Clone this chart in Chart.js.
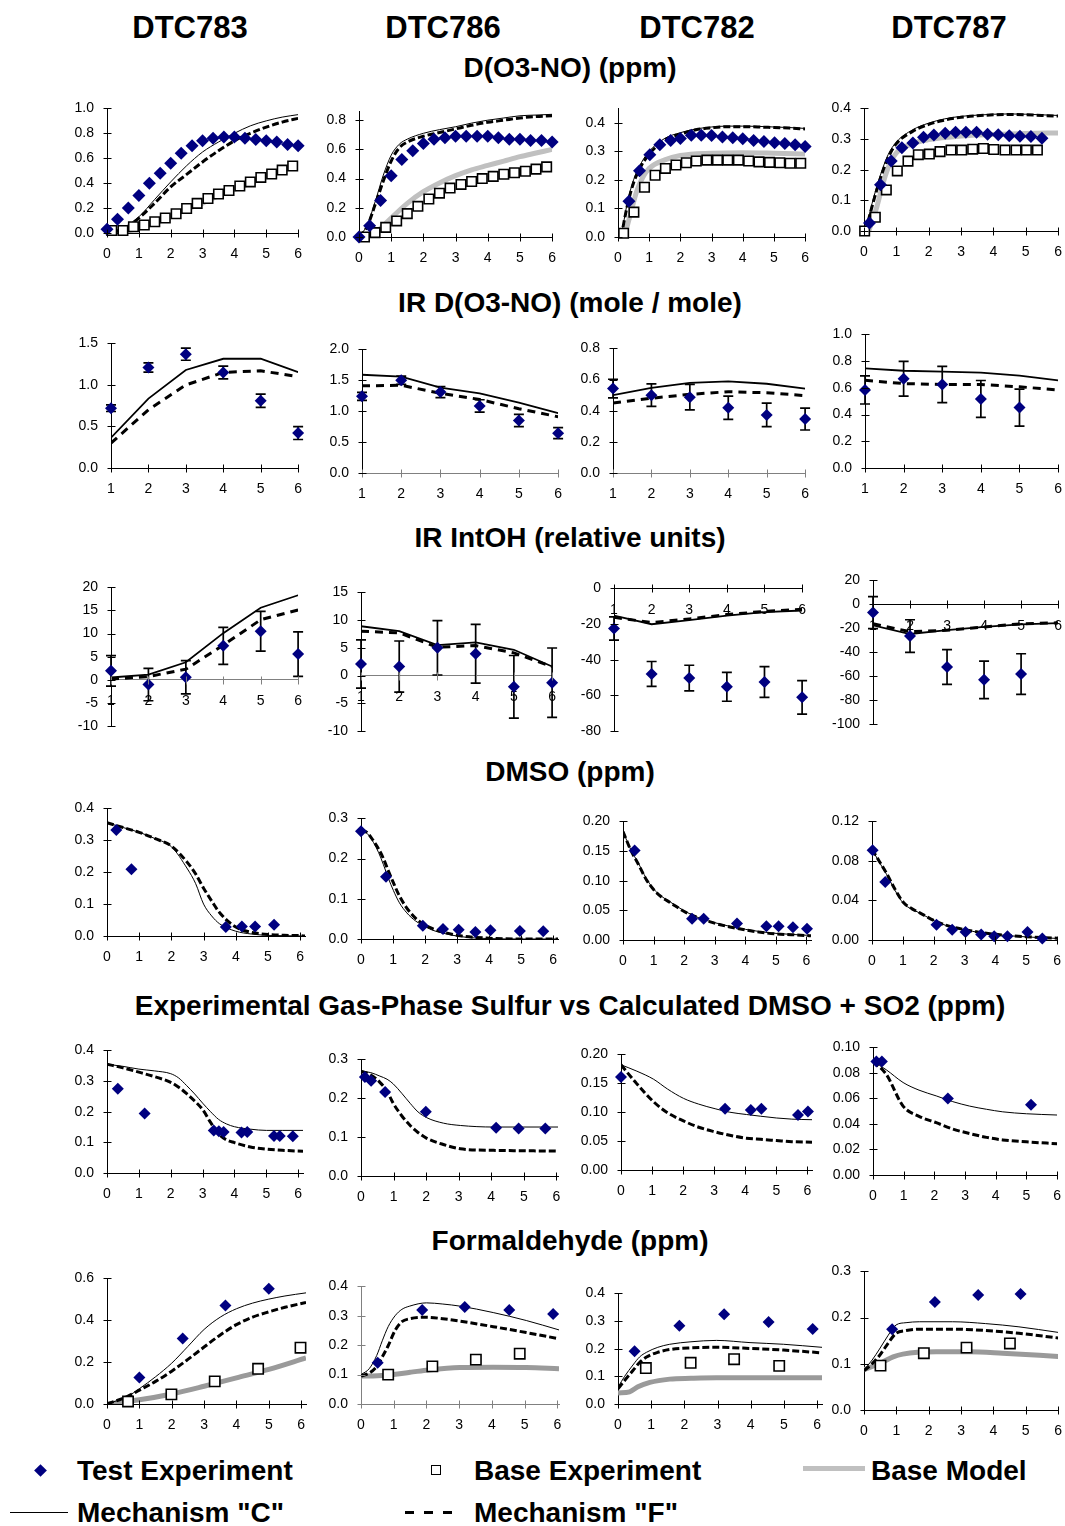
<!DOCTYPE html>
<html><head><meta charset="utf-8">
<script src="https://cdn.jsdelivr.net/npm/chart.js@4.4.1/dist/chart.umd.min.js"></script>
<style>
html,body{margin:0;padding:0;background:#fff;}
body{width:1065px;height:1526px;position:relative;overflow:hidden;font-family:"Liberation Sans",Arial,Helvetica,sans-serif;color:#000;}
.t{position:absolute;transform:translate(-50%,-50%);font-weight:bold;white-space:nowrap;line-height:1;}
.l{position:absolute;transform:translateY(-50%);font-weight:bold;white-space:nowrap;line-height:1;font-size:28px;}
canvas{position:absolute;}
</style></head>
<body>
<div class="t" style="left:190px;top:27px;font-size:31px">DTC783</div>
<div class="t" style="left:443px;top:27px;font-size:31px">DTC786</div>
<div class="t" style="left:697px;top:27px;font-size:31px">DTC782</div>
<div class="t" style="left:949px;top:27px;font-size:31px">DTC787</div>
<div class="t" style="left:570px;top:68px;font-size:28px">D(O3-NO) (ppm)</div>
<div class="t" style="left:570px;top:303px;font-size:28px">IR D(O3-NO) (mole / mole)</div>
<div class="t" style="left:570px;top:538px;font-size:28px">IR IntOH (relative units)</div>
<div class="t" style="left:570px;top:772px;font-size:28px">DMSO (ppm)</div>
<div class="t" style="left:570px;top:1006px;font-size:28px">Experimental Gas-Phase Sulfur vs Calculated DMSO + SO2 (ppm)</div>
<div class="t" style="left:570px;top:1241px;font-size:28px">Formaldehyde (ppm)</div>

<div style="position:absolute;left:35.5px;top:1465.5px;width:9px;height:9px;background:#000080;transform:rotate(45deg)"></div>
<div class="l" style="left:77px;top:1471px">Test Experiment</div>
<div style="position:absolute;left:431px;top:1465px;width:8px;height:8px;border:1.5px solid #000;background:#fff"></div>
<div class="l" style="left:474px;top:1471px">Base Experiment</div>
<div style="position:absolute;left:803px;top:1466px;width:62px;height:5px;background:#c0c0c0"></div>
<div class="l" style="left:871px;top:1471px">Base Model</div>
<div style="position:absolute;left:10px;top:1512px;width:58px;height:1px;background:#000"></div>
<div class="l" style="left:77px;top:1513px">Mechanism "C"</div>
<div style="position:absolute;left:405px;top:1511px;width:56px;height:3px;background:repeating-linear-gradient(to right,#000 0 9px,transparent 9px 19px)"></div>
<div class="l" style="left:474px;top:1513px">Mechanism "F"</div>

<script>
// ---------- tick values ----------
const X06 = [0,1,2,3,4,5,6];
const X16 = [1,2,3,4,5,6];
const irX = [1,2,3,4,5,6];

const yt_o3_783 = [0,0.2,0.4,0.6,0.8,1.0];
const yt_o3_786 = [0,0.2,0.4,0.6,0.8];
const yt_o3_782 = [0,0.1,0.2,0.3,0.4];
const yt_o3_787 = [0,0.1,0.2,0.3,0.4];
const yt_ir_783 = [0,0.5,1.0,1.5];
const yt_ir_786 = [0,0.5,1.0,1.5,2.0];
const yt_ir_782 = [0,0.2,0.4,0.6,0.8];
const yt_ir_787 = [0,0.2,0.4,0.6,0.8,1.0];
const yt_oh_783 = [-10,-5,0,5,10,15,20];
const yt_oh_786 = [-10,-5,0,5,10,15];
const yt_oh_782 = [-80,-60,-40,-20,0];
const yt_oh_787 = [-100,-80,-60,-40,-20,0,20];
const yt_dmso_783 = [0,0.1,0.2,0.3,0.4];
const yt_dmso_786 = [0,0.1,0.2,0.3];
const yt_dmso_782 = [0,0.05,0.10,0.15,0.20];
const yt_dmso_787 = [0,0.04,0.08,0.12];
const yt_sul_783 = [0,0.1,0.2,0.3,0.4];
const yt_sul_786 = [0,0.1,0.2,0.3];
const yt_sul_782 = [0,0.05,0.10,0.15,0.20];
const yt_sul_787 = [0,0.02,0.04,0.06,0.08,0.10];
const yt_hcho_783 = [0,0.2,0.4,0.6];
const yt_hcho_786 = [0,0.1,0.2,0.3,0.4];
const yt_hcho_782 = [0,0.1,0.2,0.3,0.4];
const yt_hcho_787 = [0,0.1,0.2,0.3];

// ---------- D(O3-NO) ----------
const o3_783_test = [[0,0.03],[0.33,0.11],[0.67,0.20],[1.0,0.30],[1.33,0.40],[1.67,0.48],[2.0,0.56],[2.33,0.64],[2.67,0.70],[3.0,0.74],[3.33,0.76],[3.67,0.77],[4.0,0.77],[4.33,0.76],[4.67,0.75],[5.0,0.74],[5.33,0.73],[5.67,0.71],[6.0,0.70]];
const o3_783_base = [[0.15,0.02],[0.5,0.02],[0.83,0.05],[1.17,0.064],[1.5,0.09],[1.83,0.12],[2.17,0.154],[2.5,0.197],[2.83,0.238],[3.17,0.277],[3.5,0.313],[3.83,0.341],[4.17,0.377],[4.5,0.41],[4.83,0.446],[5.17,0.474],[5.5,0.505],[5.83,0.538]];
const o3_783_t = [0,0.5,1,1.5,2,2.5,3,3.5,4,4.5,5,5.5,6];
const o3_783_C = [0,0.04,0.13,0.27,0.41,0.54,0.65,0.73,0.80,0.86,0.90,0.93,0.95];
const o3_783_F = [0,0.03,0.12,0.24,0.37,0.47,0.57,0.66,0.74,0.80,0.85,0.89,0.92];
const o3_783_model = [0,0.01,0.04,0.08,0.13,0.19,0.24,0.30,0.35,0.40,0.46,0.51,0.56];

const o3_786_test = [[0,0],[0.33,0.077],[0.67,0.25],[1,0.42],[1.33,0.53],[1.67,0.59],[2,0.64],[2.33,0.67],[2.67,0.68],[3,0.69],[3.33,0.69],[3.67,0.69],[4,0.69],[4.33,0.68],[4.67,0.67],[5,0.67],[5.33,0.66],[5.67,0.66],[6,0.65]];
const o3_786_base = [[0.17,0],[0.5,0.03],[0.83,0.066],[1.17,0.11],[1.5,0.16],[1.83,0.21],[2.17,0.26],[2.5,0.30],[2.83,0.335],[3.17,0.36],[3.5,0.38],[3.83,0.40],[4.17,0.415],[4.5,0.43],[4.83,0.44],[5.17,0.45],[5.5,0.465],[5.83,0.48]];
const o3_786_t = [0,0.25,0.5,0.75,1,1.25,1.5,2,2.5,3,3.5,4,4.5,5,5.5,6];
const o3_786_C = [0,0.08,0.24,0.42,0.56,0.635,0.67,0.71,0.735,0.755,0.78,0.80,0.815,0.83,0.835,0.84];
const o3_786_F = [0,0.07,0.22,0.38,0.52,0.61,0.65,0.69,0.715,0.74,0.765,0.785,0.80,0.815,0.825,0.83];
const o3_786_mt = [0,0.5,1,1.5,2,2.5,3,3.5,4,4.5,5,5.5,6];
const o3_786_model = [0,0.03,0.13,0.23,0.31,0.37,0.42,0.46,0.49,0.52,0.55,0.575,0.60];

const o3_782_test = [[0.35,0.125],[0.69,0.232],[1.02,0.288],[1.34,0.323],[1.69,0.338],[2.0,0.345],[2.35,0.356],[2.67,0.356],[3.0,0.355],[3.35,0.35],[3.68,0.347],[4.0,0.344],[4.35,0.338],[4.68,0.334],[5.02,0.33],[5.35,0.327],[5.68,0.323],[6.0,0.317]];
const o3_782_base = [[0.18,0.013],[0.51,0.087],[0.85,0.174],[1.19,0.216],[1.52,0.24],[1.86,0.252],[2.19,0.26],[2.51,0.266],[2.85,0.269],[3.19,0.269],[3.52,0.269],[3.86,0.269],[4.19,0.266],[4.52,0.263],[4.86,0.261],[5.19,0.26],[5.52,0.258],[5.86,0.258]];
const o3_782_t = [0.1,0.3,0.5,0.75,1,1.5,2,2.5,3,3.5,4,4.5,5,5.5,6];
const o3_782_C = [0,0.12,0.2,0.26,0.3,0.345,0.365,0.378,0.385,0.388,0.388,0.387,0.385,0.383,0.38];
const o3_782_F = [0,0.11,0.19,0.25,0.29,0.34,0.36,0.375,0.382,0.386,0.386,0.385,0.383,0.381,0.378];
const o3_782_mt = [0.2,0.4,0.6,0.8,1,1.5,2,3,4,5,6];
const o3_782_model = [0,0.08,0.16,0.21,0.24,0.27,0.285,0.293,0.295,0.293,0.29];

const o3_787_test = [[0.17,0.026],[0.51,0.151],[0.84,0.228],[1.17,0.272],[1.51,0.287],[1.84,0.306],[2.16,0.313],[2.51,0.319],[2.83,0.322],[3.15,0.322],[3.48,0.322],[3.82,0.316],[4.15,0.314],[4.49,0.311],[4.82,0.309],[5.16,0.308],[5.5,0.303]];
const o3_787_base = [[0.02,0],[0.35,0.045],[0.69,0.134],[1.03,0.196],[1.36,0.228],[1.68,0.249],[2.02,0.251],[2.35,0.259],[2.69,0.264],[3.02,0.264],[3.36,0.267],[3.69,0.269],[4.01,0.266],[4.36,0.264],[4.7,0.264],[5.02,0.264],[5.36,0.264]];
const o3_787_t = [0.05,0.25,0.5,0.75,1,1.5,2,2.5,3,3.5,4,4.5,5,5.5,6];
const o3_787_C = [0,0.09,0.18,0.25,0.29,0.33,0.352,0.366,0.374,0.378,0.381,0.382,0.381,0.379,0.377];
const o3_787_F = [0,0.08,0.17,0.24,0.285,0.325,0.348,0.362,0.371,0.376,0.379,0.38,0.379,0.377,0.375];
const o3_787_mt = [0.15,0.4,0.6,0.8,1,1.5,2,3,4,5,6];
const o3_787_model = [0,0.08,0.16,0.22,0.255,0.285,0.298,0.31,0.315,0.318,0.32];

// ---------- IR D(O3-NO) ----------
const ir_783_test = [0.72,1.21,1.37,1.15,0.81,0.42];
const ir_783_err  = [0.04,0.055,0.073,0.077,0.08,0.077];
const ir_783_C = [0.365,0.835,1.18,1.315,1.315,1.154];
const ir_783_F = [0.30,0.70,1.0,1.15,1.17,1.10];
const ir_786_test = [1.24,1.50,1.31,1.085,0.85,0.645];
const ir_786_err  = [0.065,0.067,0.09,0.1,0.1,0.09];
const ir_786_C = [1.59,1.56,1.38,1.29,1.14,0.97];
const ir_786_F = [1.41,1.42,1.29,1.19,1.04,0.91];
const ir_782_test = [0.542,0.50,0.487,0.419,0.373,0.346];
const ir_782_err  = [0.06,0.072,0.082,0.075,0.075,0.07];
const ir_782_C = [0.50,0.546,0.579,0.588,0.573,0.542];
const ir_782_F = [0.45,0.48,0.505,0.522,0.515,0.497];
const ir_787_test = [0.584,0.668,0.625,0.517,0.452];
const ir_787_err  = [0.105,0.13,0.135,0.138,0.138];
const ir_787_C = [0.745,0.728,0.721,0.714,0.692,0.656];
const ir_787_F = [0.656,0.632,0.625,0.625,0.608,0.584];

// ---------- IR IntOH ----------
const oh_783_test = [1.94,-1.04,0.56,7.36,10.49,5.56];
const oh_783_err  = [3.3,3.5,3.6,4.0,4.3,4.8];
const oh_783_C = [0.5,1.1,3.8,10.1,15.6,18.3];
const oh_783_F = [0.15,0.7,2.3,7.5,13.0,15.1];
const oh_786_test = [2.1,1.63,5.0,3.95,-2.03,-1.28];
const oh_786_err  = [4.35,4.6,4.9,5.3,5.65,6.25];
const oh_786_C = [8.9,8.0,5.5,6.0,4.65,1.63];
const oh_786_F = [8.0,7.7,5.1,5.4,4.1,1.6];
const oh_782_test = [-22.5,-48,-50.3,-55.2,-52.5,-61.1];
const oh_782_err  = [6.5,7,7.2,8.1,8.6,9.4];
const oh_782_C = [-15.3,-20.1,-17.8,-15.3,-13.3,-12.4];
const oh_782_F = [-16.2,-19.2,-17.1,-14.7,-12.9,-11.7];
const oh_787_test = [-6.9,-26.5,-52.4,-63.1,-58.3];
const oh_787_err  = [13.4,13.6,14.5,15.7,17];
const oh_787_C = [-17.6,-24.8,-21.6,-18.9,-16.8,-15.7];
const oh_787_F = [-16.2,-22.9,-21.6,-18.9,-16.3,-15.4];

// ---------- DMSO ----------
const dmso_783_test = [[0.29,0.332],[0.76,0.209],[3.69,0.028],[4.19,0.03],[4.6,0.03],[5.19,0.035]];
const dmso_783_t = [0,0.5,1,1.5,2,2.5,2.75,3,3.25,3.5,4,4.5,5,5.5,6,6.15];
const dmso_783_C = [0.355,0.34,0.325,0.305,0.28,0.21,0.165,0.10,0.063,0.038,0.015,0.006,0.002,0.001,0,0];
const dmso_783_F = [0.355,0.34,0.325,0.305,0.282,0.23,0.195,0.15,0.11,0.073,0.028,0.011,0.005,0.002,0.001,0];
const dmso_786_test = [[0,0.268],[0.78,0.155],[1.93,0.033],[2.56,0.025],[3.05,0.023],[3.57,0.0175],[4.04,0.0215],[4.96,0.02],[5.69,0.019]];
const dmso_786_t = [0,0.2,0.39,0.55,0.7,0.85,1.01,1.2,1.43,1.7,1.95,2.2,2.48,3.1,4,5,6.15];
const dmso_786_C = [0.272,0.262,0.24,0.215,0.185,0.152,0.121,0.09,0.065,0.045,0.033,0.023,0.016,0.006,0.001,0,0];
const dmso_786_F = [0.272,0.264,0.244,0.224,0.2,0.17,0.14,0.107,0.077,0.052,0.037,0.027,0.019,0.008,0.002,0,0];
const dmso_782_test = [[0.38,0.151],[2.26,0.036],[2.64,0.036],[3.73,0.028],[4.69,0.023],[5.09,0.023],[5.56,0.0215],[6.02,0.019]];
const dmso_782_t = [0,0.25,0.51,0.75,1,1.25,1.55,2.04,2.5,3.02,3.5,4,4.5,5.04,5.5,6,6.15];
const dmso_782_C = [0.183,0.153,0.129,0.105,0.086,0.074,0.064,0.048,0.037,0.029,0.023,0.018,0.014,0.011,0.0095,0.008,0.0075];
const dmso_782_F = [0.183,0.152,0.127,0.103,0.085,0.073,0.063,0.047,0.037,0.028,0.022,0.017,0.013,0.010,0.009,0.0075,0.007];
const dmso_787_test = [[0.02,0.0907],[0.43,0.0586],[2.09,0.0154],[2.6,0.0103],[3.03,0.008],[3.54,0.0055],[3.96,0.0039],[4.39,0.0039],[5.04,0.008],[5.52,0.0016]];
const dmso_787_t = [0,0.25,0.48,0.75,1.02,1.3,1.55,2.09,2.5,3,3.5,4.02,4.5,4.98,5.5,6];
const dmso_787_C = [0.0917,0.078,0.066,0.05,0.037,0.031,0.0273,0.0183,0.0138,0.0103,0.0075,0.0055,0.0042,0.0032,0.0023,0.0016];
const dmso_787_F = [0.0917,0.079,0.067,0.051,0.038,0.0315,0.0275,0.0185,0.014,0.0105,0.0077,0.0057,0.0044,0.0034,0.0025,0.0018];

// ---------- Sulfur ----------
const sul_783_test = [[0.34,0.275],[1.18,0.194],[3.35,0.139],[3.51,0.136],[3.66,0.134],[4.22,0.132],[4.4,0.134],[5.24,0.121],[5.42,0.121],[5.83,0.12]];
const sul_783_t = [0,0.5,1,1.5,2,2.25,2.5,2.75,3,3.25,3.5,3.75,4,4.5,5,5.5,6.15];
const sul_783_C = [0.355,0.348,0.339,0.333,0.324,0.31,0.285,0.258,0.228,0.2,0.175,0.16,0.151,0.143,0.139,0.139,0.139];
const sul_783_F = [0.355,0.343,0.329,0.314,0.296,0.28,0.259,0.235,0.207,0.165,0.128,0.108,0.099,0.085,0.078,0.074,0.071];
const sul_786_test = [[0.12,0.255],[0.31,0.245],[0.74,0.216],[1.99,0.165],[4.15,0.124],[4.84,0.122],[5.66,0.122]];
const sul_786_t = [0,0.3,0.58,0.8,0.99,1.25,1.51,1.75,2.02,2.53,3.05,4.07,5,6.05];
const sul_786_C = [0.27,0.266,0.257,0.249,0.237,0.213,0.187,0.165,0.15,0.136,0.13,0.126,0.126,0.126];
const sul_786_F = [0.27,0.26,0.241,0.218,0.187,0.155,0.13,0.112,0.097,0.081,0.07,0.066,0.065,0.064];
const sul_782_test = [[0,0.161],[3.35,0.106],[4.18,0.1036],[4.52,0.106],[5.7,0.095],[6.02,0.101]];
const sul_782_t = [0,0.51,1.05,1.5,2.01,2.5,3.03,3.5,4.04,4.5,5,5.5,6.15];
const sul_782_C = [0.182,0.171,0.157,0.14,0.124,0.114,0.106,0.1,0.096,0.093,0.09,0.088,0.087];
const sul_782_F = [0.182,0.149,0.118,0.099,0.085,0.074,0.066,0.06,0.055,0.053,0.051,0.049,0.048];
const sul_787_test = [[0.11,0.089],[0.29,0.089],[2.44,0.06],[5.15,0.055]];
const sul_787_t = [0,0.43,0.98,1.5,2.06,2.6,3.15,3.7,4.23,5,6];
const sul_787_C = [0.089,0.0825,0.0725,0.0665,0.062,0.0575,0.054,0.0515,0.0495,0.048,0.047];
const sul_787_F = [0.089,0.079,0.054,0.046,0.041,0.036,0.0325,0.0295,0.0275,0.026,0.0245];

// ---------- Formaldehyde ----------
const hcho_783_test = [[1,0.127],[2.34,0.313],[3.66,0.47],[5.0,0.55]];
const hcho_783_base = [[0.65,0.012],[1.99,0.046],[3.33,0.108],[4.67,0.168],[5.98,0.269]];
const hcho_783_t = [0,0.62,1,1.5,2,2.5,3,3.5,4,4.5,5,5.5,6.15];
const hcho_783_C = [0,0.035,0.073,0.13,0.195,0.275,0.356,0.415,0.455,0.482,0.501,0.516,0.531];
const hcho_783_F = [0,0.035,0.066,0.108,0.157,0.213,0.272,0.33,0.379,0.415,0.44,0.462,0.485];
const hcho_783_mt = [0,1,2,3,4,5,6.15];
const hcho_783_model = [0,0.02,0.048,0.085,0.125,0.165,0.22];
const hcho_786_test = [[0.51,0.14],[1.87,0.32],[3.17,0.33],[4.53,0.32],[5.87,0.306]];
const hcho_786_base = [[0.83,0.1],[2.18,0.128],[3.51,0.151],[4.85,0.171]];
const hcho_786_t = [0,0.25,0.48,0.65,0.83,1.04,1.25,1.49,2,2.5,3.02,4.04,5.05,6.05];
const hcho_786_C = [0.1,0.12,0.165,0.215,0.263,0.30,0.322,0.333,0.344,0.34,0.333,0.311,0.284,0.252];
const hcho_786_F = [0.095,0.105,0.128,0.16,0.198,0.25,0.28,0.29,0.295,0.29,0.282,0.263,0.243,0.222];
const hcho_786_mt = [0,0.5,0.99,1.5,2,3.02,4.04,5.05,6.05];
const hcho_786_model = [0.095,0.096,0.1,0.108,0.115,0.124,0.125,0.124,0.12];
const hcho_782_test = [[0.5,0.191],[1.85,0.283],[3.2,0.325],[4.54,0.297],[5.87,0.271]];
const hcho_782_base = [[0.84,0.13],[2.19,0.149],[3.5,0.162],[4.86,0.138]];
const hcho_782_t = [0,0.2,0.45,0.65,0.86,1.2,1.56,2.2,2.97,3.98,4.99,6.15];
const hcho_782_C = [0.061,0.1,0.141,0.17,0.187,0.205,0.216,0.225,0.23,0.222,0.216,0.205];
const hcho_782_F = [0.055,0.085,0.121,0.15,0.17,0.187,0.197,0.203,0.205,0.201,0.195,0.185];
const hcho_782_mt = [0,0.35,0.6,0.96,1.56,2.2,2.97,3.98,6.15];
const hcho_782_model = [0.04,0.044,0.062,0.078,0.09,0.093,0.095,0.095,0.095];
const hcho_787_test = [[0.87,0.175],[2.19,0.234],[3.53,0.249],[4.84,0.251]];
const hcho_787_base = [[0.51,0.096],[1.85,0.123],[3.17,0.135],[4.51,0.144]];
const hcho_787_t = [0,0.25,0.48,0.75,0.99,1.3,1.71,2.74,3.76,4.79,6];
const hcho_787_C = [0.087,0.108,0.132,0.162,0.184,0.189,0.191,0.191,0.187,0.18,0.168];
const hcho_787_F = [0.085,0.1,0.118,0.145,0.166,0.172,0.175,0.175,0.172,0.166,0.156];
const hcho_787_mt = [0,0.58,0.9,1.2,2.23,3.25,4.28,6];
const hcho_787_model = [0.087,0.104,0.115,0.121,0.126,0.126,0.123,0.116];

// ---------- helpers ----------
const pts = a => a.map(p => ({x:p[0], y:p[1]}));
const zip = (xs, ys) => ys.map((v,i) => ({x:xs[i], y:v}));
const FONT = '"Liberation Sans", Arial, Helvetica, sans-serif';

const errPlugin = {
  id:'errbars',
  beforeDatasetsDraw(chart){
    const ctx = chart.ctx, xs = chart.scales.x, ys = chart.scales.y;
    chart.data.datasets.forEach(ds => {
      if (!ds.errors) return;
      ctx.save(); ctx.strokeStyle = '#000'; ctx.lineWidth = 1.7;
      ds.data.forEach((p,j) => {
        const e = ds.errors[j];
        const px = xs.getPixelForValue(p.x);
        const y1 = ys.getPixelForValue(p.y + e), y2 = ys.getPixelForValue(p.y - e);
        ctx.beginPath();
        ctx.moveTo(px, y1); ctx.lineTo(px, y2);
        ctx.moveTo(px-5, y1); ctx.lineTo(px+5, y1);
        ctx.moveTo(px-5, y2); ctx.lineTo(px+5, y2);
        ctx.stroke();
      });
      ctx.restore();
    });
  }
};
const tickPlugin = {
  id:'xlTicks',
  afterDraw(chart, args, opts){
    const ctx = chart.ctx, xs = chart.scales.x, ys = chart.scales.y;
    const ay = Math.round(ys.getPixelForValue(0)) + 0.5;
    const ax = Math.round(chart.chartArea.left) + 0.5;
    ctx.save(); ctx.lineWidth = 1;
    ctx.strokeStyle = opts.xc || '#000';
    ctx.beginPath();
    xs.ticks.forEach(t => { const px = Math.round(xs.getPixelForValue(t.value)) + 0.5; ctx.moveTo(px, ay-4); ctx.lineTo(px, ay+4); });
    ctx.stroke();
    ctx.strokeStyle = opts.yc || '#000';
    ctx.beginPath();
    ys.ticks.forEach(t => { const py = Math.round(ys.getPixelForValue(t.value)) + 0.5; ctx.moveTo(ax-4, py); ctx.lineTo(ax+4, py); });
    ctx.stroke();
    ctx.restore();
  }
};

// ---------- panel configuration (built from the arrays above) ----------
const G1 = '#c0c0c0', G6 = '#9a9a9a', GA = '#808080';
const panels = [
  {box:[106.7,299.3,103.3,233.3], xr:[0,6], yr:[0,1.0], xt:X06, yt:yt_o3_783, dec:1, smooth:true, mr:6.5, br:6.7, mc:G1,
   test:pts(o3_783_test), base:pts(o3_783_base), model:zip(o3_783_t,o3_783_model), C:zip(o3_783_t,o3_783_C), F:zip(o3_783_t,o3_783_F)},
  {box:[359.3,552.7,105.9,236.7], xr:[0,6], yr:[0,0.86], xt:X06, yt:yt_o3_786, dec:1, smooth:true, mr:6.5, br:6.7, mc:G1,
   test:pts(o3_786_test), base:pts(o3_786_base), model:zip(o3_786_mt,o3_786_model), C:zip(o3_786_t,o3_786_C), F:zip(o3_786_t,o3_786_F)},
  {box:[618,806,102.8,236.7], xr:[0,6], yr:[0,0.45], xt:X06, yt:yt_o3_782, dec:1, smooth:true, mr:6.5, br:6.7, mc:G1,
   test:pts(o3_782_test), base:pts(o3_782_base), model:zip(o3_782_mt,o3_782_model), C:zip(o3_782_t,o3_782_C), F:zip(o3_782_t,o3_782_F)},
  {box:[864.3,1059,103.3,231], xr:[0,6], yr:[0,0.4], xt:X06, yt:yt_o3_787, dec:1, smooth:true, mr:6.5, br:6.7, mc:G1,
   test:pts(o3_787_test), base:pts(o3_787_base), model:zip(o3_787_mt,o3_787_model), C:zip(o3_787_t,o3_787_C), F:zip(o3_787_t,o3_787_F)},

  {box:[111,299.3,338.3,468.3], xr:[1,6], yr:[0,1.5], xt:X16, yt:yt_ir_783, dec:1, smooth:false, mr:6,
   test:zip(irX,ir_783_test), err:ir_783_err, C:zip(irX,ir_783_C), F:zip(irX,ir_783_F)},
  {box:[362.3,559.3,344.3,473.3], xr:[1,6], yr:[0,2.0], xt:X16, yt:yt_ir_786, dec:1, smooth:false, mr:6, xc:GA,
   test:zip(irX,ir_786_test), err:ir_786_err, C:zip(irX,ir_786_C), F:zip(irX,ir_786_F)},
  {box:[612.7,806,343.3,472.7], xr:[1,6], yr:[0,0.8], xt:X16, yt:yt_ir_782, dec:1, smooth:false, mr:6, xc:GA,
   test:zip(irX,ir_782_test), err:ir_782_err, C:zip(irX,ir_782_C), F:zip(irX,ir_782_F)},
  {box:[865,1059.3,329,467.7], xr:[1,6], yr:[0,1.0], xt:X16, yt:yt_ir_787, dec:1, smooth:false, mr:6,
   test:zip(irX,ir_787_test), err:ir_787_err, C:zip(irX,ir_787_C), F:zip(irX,ir_787_F)},

  {box:[111,299.3,581.7,725.7], xr:[1,6], yr:[-10,20], xt:X16, yt:yt_oh_783, dec:0, smooth:false, mr:6, xc:GA,
   test:zip(irX,oh_783_test), err:oh_783_err, C:zip(irX,oh_783_C), F:zip(irX,oh_783_F)},
  {box:[361,553.3,586.7,730.7], xr:[1,6], yr:[-10,15], xt:X16, yt:yt_oh_786, dec:0, smooth:false, mr:6, xc:GA,
   test:zip(irX,oh_786_test), err:oh_786_err, C:zip(irX,oh_786_C), F:zip(irX,oh_786_F)},
  {box:[614.3,803.3,582.7,731], xr:[1,6], yr:[-80,0], xt:X16, yt:yt_oh_782, dec:0, smooth:false, mr:6,
   test:zip(irX,oh_782_test), err:oh_782_err, C:zip(irX,oh_782_C), F:zip(irX,oh_782_F)},
  {box:[873.3,1059.3,575,724.3], xr:[1,6], yr:[-100,20], xt:X16, yt:yt_oh_787, dec:0, smooth:false, mr:6,
   test:zip(irX,oh_787_test), err:oh_787_err, C:zip(irX,oh_787_C), F:zip(irX,oh_787_F)},

  {box:[106.7,304.8,803.3,936], xr:[0,6.15], yr:[0,0.4], xt:X06, yt:yt_dmso_783, dec:1, smooth:true, mr:6,
   test:pts(dmso_783_test), C:zip(dmso_783_t,dmso_783_C), F:zip(dmso_783_t,dmso_783_F)},
  {box:[361,557.5,813.3,939], xr:[0,6.15], yr:[0,0.3], xt:X06, yt:yt_dmso_786, dec:1, smooth:true, mr:6,
   test:pts(dmso_786_test), C:zip(dmso_786_t,dmso_786_C), F:zip(dmso_786_t,dmso_786_F)},
  {box:[622.7,810.6,815.7,940], xr:[0,6.15], yr:[0,0.2], xt:X06, yt:yt_dmso_782, dec:2, smooth:true, mr:6,
   test:pts(dmso_782_test), C:zip(dmso_782_t,dmso_782_C), F:zip(dmso_782_t,dmso_782_F)},
  {box:[871.7,1058.3,815.7,940], xr:[0,6], yr:[0,0.12], xt:X06, yt:yt_dmso_787, dec:2, smooth:true, mr:6,
   test:pts(dmso_787_test), C:zip(dmso_787_t,dmso_787_C), F:zip(dmso_787_t,dmso_787_F)},

  {box:[106.7,302.5,1045,1172.7], xr:[0,6.15], yr:[0,0.4], xt:X06, yt:yt_sul_783, dec:1, smooth:true, mr:6,
   test:pts(sul_783_test), C:zip(sul_783_t,sul_783_C), F:zip(sul_783_t,sul_783_F)},
  {box:[361,557.6,1054.3,1176], xr:[0,6.05], yr:[0,0.3], xt:X06, yt:yt_sul_786, dec:1, smooth:true, mr:6,
   test:pts(sul_786_test), C:zip(sul_786_t,sul_786_C), F:zip(sul_786_t,sul_786_F)},
  {box:[620.7,812.4,1049,1170], xr:[0,6.15], yr:[0,0.2], xt:X06, yt:yt_sul_782, dec:2, smooth:true, mr:6,
   test:pts(sul_782_test), C:zip(sul_782_t,sul_782_C), F:zip(sul_782_t,sul_782_F)},
  {box:[873.3,1057.7,1041.7,1175], xr:[0,6], yr:[0,0.1], xt:X06, yt:yt_sul_787, dec:2, smooth:true, mr:6,
   test:pts(sul_787_test), C:zip(sul_787_t,sul_787_C), F:zip(sul_787_t,sul_787_F)},

  {box:[106.7,305.5,1273.3,1404.3], xr:[0,6.15], yr:[0,0.6], xt:X06, yt:yt_hcho_783, dec:1, smooth:true, mr:6, br:7.3, mc:G6,
   test:pts(hcho_783_test), base:pts(hcho_783_base), model:zip(hcho_783_mt,hcho_783_model), C:zip(hcho_783_t,hcho_783_C), F:zip(hcho_783_t,hcho_783_F)},
  {box:[361,559.3,1281,1404.3], xr:[0,6.05], yr:[0,0.4], xt:X06, yt:yt_hcho_786, dec:1, smooth:true, mr:6, br:7.3, mc:G6, xc:GA, yc:GA,
   test:pts(hcho_786_test), base:pts(hcho_786_base), model:zip(hcho_786_mt,hcho_786_model), C:zip(hcho_786_t,hcho_786_C), F:zip(hcho_786_t,hcho_786_F)},
  {box:[618.3,821.7,1288.3,1404.3], xr:[0,6.15], yr:[0,0.4], xt:X06, yt:yt_hcho_782, dec:1, smooth:true, mr:6, br:7.3, mc:G6,
   test:pts(hcho_782_test), base:pts(hcho_782_base), model:zip(hcho_782_mt,hcho_782_model), C:zip(hcho_782_t,hcho_782_C), F:zip(hcho_782_t,hcho_782_F)},
  {box:[864.3,1059.3,1265.7,1410], xr:[0,6], yr:[0,0.3], xt:X06, yt:yt_hcho_787, dec:1, smooth:true, mr:6, br:7.3, mc:G6,
   test:pts(hcho_787_test), base:pts(hcho_787_base), model:zip(hcho_787_mt,hcho_787_model), C:zip(hcho_787_t,hcho_787_C), F:zip(hcho_787_t,hcho_787_F)}
];

function makePanel(p){
  const padL = 60, padR = 12, padT = 12, padB = 34;
  const L = Math.round(p.box[0]), R = Math.round(p.box[1]), T = Math.round(p.box[2]), B = Math.round(p.box[3]);
  const w = R - L + padL + padR, h = B - T + padT + padB;
  const cv = document.createElement('canvas');
  cv.width = w; cv.height = h;
  cv.style.left = (L - padL) + 'px'; cv.style.top = (T - padT) + 'px';
  cv.style.width = w + 'px'; cv.style.height = h + 'px';
  document.body.appendChild(cv);
  const zeroAxis = p.yr[0] < 0;
  const lineCommon = p.smooth ? {cubicInterpolationMode:'monotone', tension:0.4} : {tension:0};
  const datasets = [];
  datasets.push({data:p.test, showLine:false, pointStyle:'rectRot', pointRadius:p.mr, pointBackgroundColor:'#000080', pointBorderColor:'#000080', pointBorderWidth:0, clip:false, errors:p.err});
  if (p.base) datasets.push({data:p.base, showLine:false, pointStyle:'rect', pointRadius:p.br, pointBackgroundColor:'#fff', pointBorderColor:'#000', pointBorderWidth:1.6, clip:false});
  datasets.push(Object.assign({data:p.F, showLine:true, pointRadius:0, borderColor:'#000', borderWidth:3, borderDash:p.smooth?[7,3]:[8,6], fill:false}, lineCommon));
  datasets.push(Object.assign({data:p.C, showLine:true, pointRadius:0, borderColor:'#000', borderWidth:p.smooth?1:1.8, fill:false}, lineCommon));
  if (p.model) datasets.push(Object.assign({data:p.model, showLine:true, pointRadius:0, borderColor:p.mc, borderWidth:5, fill:false}, lineCommon));

  const tickFont = {family:FONT, size:14};
  const xScale = {
    type:'linear', min:p.xr[0], max:p.xr[1],
    position: zeroAxis ? {y:0} : 'bottom',
    afterBuildTicks: s => { s.ticks = p.xt.map(v => ({value:v})); },
    grid:{display:false, drawTicks:true, tickLength:4},
    border:{display:true, color:p.xc || '#000', width:1},
    ticks:{padding:9, color:'#000', font:tickFont, autoSkip:false, maxRotation:0, minRotation:0, callback:v => String(v)}
  };
  if (!zeroAxis) xScale.afterFit = s => { s.height = padB; };
  const yScale = {
    type:'linear', min:p.yr[0], max:p.yr[1], position:'left',
    afterFit: s => { s.width = padL; },
    afterBuildTicks: s => { s.ticks = p.yt.map(v => ({value:v})); },
    grid:{display:false, drawTicks:true, tickLength:4},
    border:{display:true, color:p.yc || '#000', width:1},
    ticks:{padding:9, color:'#000', font:tickFont, autoSkip:false, callback:v => Number(v).toFixed(p.dec)}
  };
  new Chart(cv, {
    type:'scatter',
    data:{datasets},
    options:{
      responsive:false, animation:false, devicePixelRatio:1, events:[],
      layout:{padding:{left:0, right:padR, top:padT, bottom: zeroAxis ? padB : 0}},
      plugins:{legend:{display:false}, tooltip:{enabled:false}, xlTicks:{xc:p.xc, yc:p.yc}},
      scales:{x:xScale, y:yScale}
    },
    plugins:[errPlugin, tickPlugin]
  });
}
panels.forEach(makePanel);
</script>
</body></html>
